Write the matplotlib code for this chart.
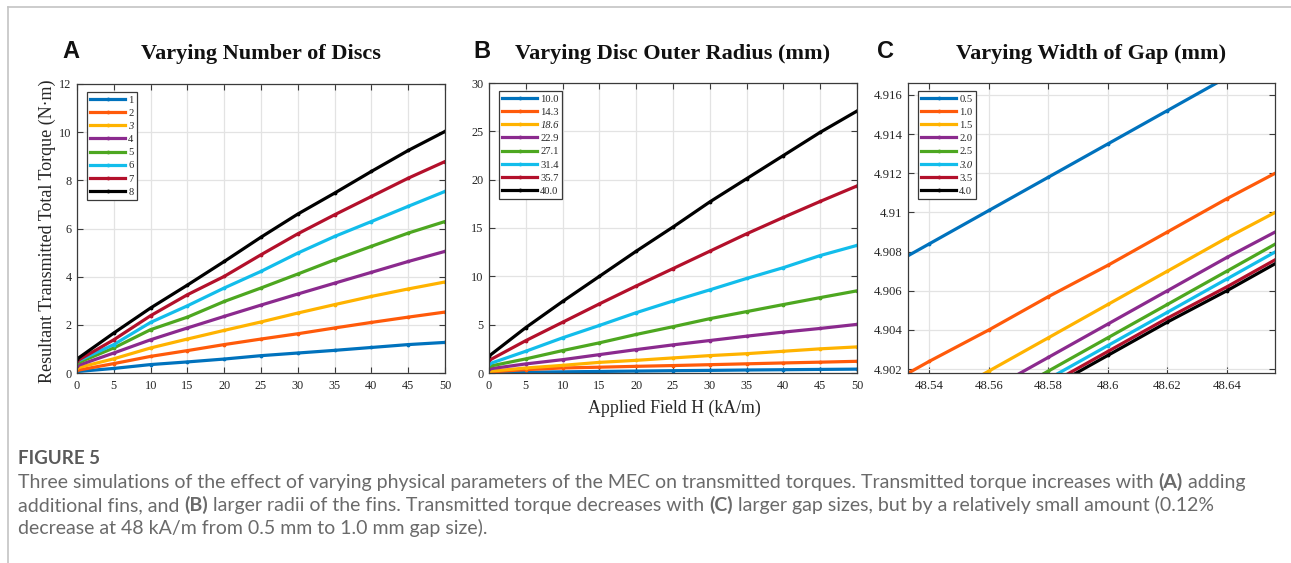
import matplotlib
matplotlib.use('Agg')
import matplotlib.pyplot as plt
from matplotlib.lines import Line2D
from matplotlib.ticker import FuncFormatter

# ---------------- data ----------------
field_H = [0, 5, 10, 15, 20, 25, 30, 35, 40, 45, 50]

series_colors = ['#0072BD', '#FF5A0A', '#FFB300', '#8B2A8E',
                 '#4DA720', '#12BDEB', '#B3102B', '#000000']

# Panel A: number of discs
disc_labels = ['1', '2', '3', '4', '5', '6', '7', '8']
discs_1 = [0.06, 0.19, 0.35, 0.46, 0.58, 0.72, 0.83, 0.94, 1.06, 1.18, 1.27]
discs_2 = [0.11, 0.39, 0.69, 0.93, 1.18, 1.41, 1.63, 1.87, 2.10, 2.32, 2.53]
discs_3 = [0.21, 0.59, 1.04, 1.41, 1.77, 2.12, 2.49, 2.84, 3.18, 3.49, 3.78]
discs_4 = [0.30, 0.83, 1.38, 1.87, 2.35, 2.82, 3.28, 3.73, 4.18, 4.63, 5.05]
discs_5 = [0.41, 1.04, 1.80, 2.32, 2.97, 3.53, 4.11, 4.70, 5.26, 5.81, 6.29]
discs_6 = [0.48, 1.18, 2.10, 2.79, 3.53, 4.22, 4.98, 5.67, 6.29, 6.92, 7.54]
discs_7 = [0.50, 1.38, 2.38, 3.25, 4.01, 4.91, 5.78, 6.57, 7.33, 8.09, 8.78]
discs_8 = [0.58, 1.66, 2.70, 3.65, 4.63, 5.64, 6.60, 7.47, 8.37, 9.24, 10.03]

# Panel B: disc outer radius (mm)
radius_labels = ['10.0', '14.3', '18.6', '22.9', '27.1', '31.4', '35.7', '40.0']
radius_10_0 = [0.03, 0.08, 0.12, 0.16, 0.20, 0.24, 0.27, 0.31, 0.34, 0.37, 0.40]
radius_14_3 = [0.10, 0.35, 0.52, 0.60, 0.69, 0.77, 0.86, 0.95, 1.04, 1.12, 1.21]
radius_18_6 = [0.17, 0.52, 0.79, 1.10, 1.31, 1.56, 1.80, 2.00, 2.25, 2.50, 2.70]
radius_22_9 = [0.42, 0.94, 1.38, 1.90, 2.42, 2.91, 3.36, 3.81, 4.23, 4.61, 5.03]
radius_27_1 = [0.69, 1.46, 2.32, 3.12, 3.99, 4.79, 5.62, 6.35, 7.08, 7.80, 8.50]
radius_31_4 = [0.94, 2.25, 3.64, 4.92, 6.24, 7.45, 8.60, 9.78, 10.90, 12.15, 13.20]
radius_35_7 = [1.30, 3.35, 5.25, 7.15, 9.00, 10.80, 12.60, 14.40, 16.10, 17.75, 19.35]
radius_40_0 = [1.75, 4.70, 7.40, 10.00, 12.60, 15.10, 17.70, 20.10, 22.50, 24.90, 27.10]

# Panel C: width of gap (mm), zoomed view
gap_labels = ['0.5', '1.0', '1.5', '2.0', '2.5', '3.0', '3.5', '4.0']
gap_field = [48.52, 48.54, 48.56, 48.58, 48.60, 48.62, 48.64, 48.66]
gap_0_5 = [4.9067, 4.9084, 4.9101, 4.9118, 4.9135, 4.9152, 4.9169, 4.9186]
gap_1_0 = [4.9007, 4.9024, 4.9040, 4.9057, 4.9073, 4.9090, 4.9107, 4.9123]
gap_1_5 = [4.8985, 4.9002, 4.9019, 4.9036, 4.9053, 4.9070, 4.9087, 4.9103]
gap_2_0 = [4.8975, 4.8992, 4.9009, 4.9026, 4.9043, 4.9060, 4.9077, 4.9093]
gap_2_5 = [4.8968, 4.8985, 4.9002, 4.9019, 4.9036, 4.9053, 4.9070, 4.9087]
gap_3_0 = [4.8964, 4.8981, 4.8998, 4.9015, 4.9032, 4.9049, 4.9066, 4.9083]
gap_3_5 = [4.8963, 4.8979, 4.8996, 4.9012, 4.9029, 4.9046, 4.9062, 4.9079]
gap_4_0 = [4.8961, 4.8977, 4.8994, 4.9010, 4.9027, 4.9044, 4.9060, 4.9077]

titles = ['Varying Number of Discs', 'Varying Disc Outer Radius (mm)',
          'Varying Width of Gap (mm)']
panel_letters = ['A', 'B', 'C']
y_label = 'Resultant Transmitted Total Torque (N\u00b7m)'
x_label = 'Applied Field H (kA/m)'

caption_head = 'FIGURE 5'
caption_lines = [
    [('Three simulations of the effect of varying physical parameters of the MEC on transmitted torques. Transmitted torque increases with ', False),
     ('(A)', True), (' adding', False)],
    [('additional fins, and ', False), ('(B)', True),
     (' larger radii of the fins. Transmitted torque decreases with ', False),
     ('(C)', True), (' larger gap sizes, but by a relatively small amount (0.12%', False)],
    [('decrease at 48 kA/m from 0.5 mm to 1.0 mm gap size).', False)],
]

# ---------------- figure ----------------
W, Hpx = 1291, 563
fig = plt.figure(figsize=(W / 100, Hpx / 100), dpi=100)
SERIF = ['Liberation Serif', 'DejaVu Serif']
AX_COL = '#3a3a3a'


def fx(px):
    return px / W


def fy(py):
    return 1 - py / Hpx


axes_px = [(77, 84, 445, 373), (489, 83, 857, 373), (908, 83, 1275, 373)]
axs = []
for (l, t, r, b) in axes_px:
    ax = fig.add_axes([fx(l), fy(b), (r - l) / W, (b - t) / Hpx])
    axs.append(ax)


def style_axis(ax, size=8.8):
    ax.grid(True, color='#e3e3e3', linewidth=0.9)
    ax.set_axisbelow(True)
    for s in ax.spines.values():
        s.set_color(AX_COL)
        s.set_linewidth(0.9)
    ax.tick_params(direction='in', length=4, width=0.8, colors=AX_COL,
                   labelsize=size, top=True, right=True)
    ax.tick_params(axis='x', pad=5)
    ax.tick_params(axis='y', pad=4)
    for lab in ax.get_xticklabels() + ax.get_yticklabels():
        lab.set_fontfamily(SERIF)
        lab.set_color('#262626')


def add_legend(ax, labels, italic_idx, width_px):
    leg = ax.legend(labels=labels, loc='upper left',
                    bbox_to_anchor=(10 / width_px, 1 - 8 / 290),
                    borderaxespad=0, prop={'family': SERIF, 'size': 7.6},
                    handlelength=3.3, handletextpad=0.3, labelspacing=0.36,
                    borderpad=0.3, fancybox=False, framealpha=1,
                    edgecolor=AX_COL, numpoints=1)
    leg.get_frame().set_linewidth(0.9)
    leg.get_texts()[italic_idx].set_style('italic')
    for t in leg.get_texts():
        t.set_color('#262626')
    return leg


LW = 2.3
MS = 3.5

# Panel A
axA = axs[0]
for ys, c in zip([discs_1, discs_2, discs_3, discs_4, discs_5, discs_6, discs_7, discs_8],
                 series_colors):
    axA.plot(field_H, ys, color=c, lw=LW, marker='.', ms=MS)
axA.set_xlim(0, 50)
axA.set_ylim(0, 12)
axA.set_xticks(range(0, 51, 5))
axA.set_yticks(range(0, 13, 2))
style_axis(axA)
add_legend(axA, disc_labels, 2, 368)

# Panel B
axB = axs[1]
for ys, c in zip([radius_10_0, radius_14_3, radius_18_6, radius_22_9, radius_27_1,
                  radius_31_4, radius_35_7, radius_40_0], series_colors):
    axB.plot(field_H, ys, color=c, lw=LW, marker='.', ms=MS)
axB.set_xlim(0, 50)
axB.set_ylim(0, 30)
axB.set_xticks(range(0, 51, 5))
axB.set_yticks(range(0, 31, 5))
style_axis(axB)
add_legend(axB, radius_labels, 2, 368)

# Panel C
axC = axs[2]
for ys, c in zip([gap_0_5, gap_1_0, gap_1_5, gap_2_0, gap_2_5, gap_3_0, gap_3_5, gap_4_0],
                 series_colors):
    axC.plot(gap_field, ys, color=c, lw=LW, marker='.', ms=MS)
axC.set_xlim(48.5328, 48.6562)
axC.set_ylim(4.9018, 4.91661)
axC.set_xticks([48.54, 48.56, 48.58, 48.60, 48.62, 48.64])
axC.set_yticks([4.902, 4.904, 4.906, 4.908, 4.910, 4.912, 4.914, 4.916])
axC.xaxis.set_major_formatter(FuncFormatter(lambda v, p: '%g' % round(v, 4)))
axC.yaxis.set_major_formatter(FuncFormatter(lambda v, p: '%g' % round(v, 4)))
style_axis(axC, 9.2)
add_legend(axC, gap_labels, 5, 367)

# titles and panel letters
for ax, (l, t, r, b), title, letter, lx in zip(axs, axes_px, titles, panel_letters,
                                               [62, 473, 877]):
    fig.text(fx((l + r) / 2), fy(54), title, ha='center', va='center',
             fontsize=16, fontweight='bold', family=SERIF, color='#111111')
    fig.text(fx(lx), fy(52), letter, ha='left', va='center', fontsize=17,
             fontweight='bold', family=['Liberation Sans', 'DejaVu Sans'], color='#111111')

fig.text(fx(47), fy(231), y_label, rotation=90, ha='center', va='center',
         fontsize=13, family=SERIF, color='#262626')
fig.text(fx(674), fy(408), x_label, ha='center', va='center',
         fontsize=12.8, family=SERIF, color='#262626')

# page frame
fig.add_artist(Line2D([fx(8), 1], [fy(7), fy(7)], color='#c4c4c4', lw=1.2))
fig.add_artist(Line2D([fx(8), fx(8)], [fy(7), 0], color='#c4c4c4', lw=1.2))

# caption
CAP_FONT = ['Lato', 'DejaVu Sans']
CAP_SIZE = 14.0
fig.text(fx(18), fy(464), caption_head, ha='left', va='baseline', fontsize=13.5,
         family=CAP_FONT, color='#5a5a5a', fontweight='bold')

fig.canvas.draw()
renderer = fig.canvas.get_renderer()
for i, pieces in enumerate(caption_lines):
    x = fx(18)
    base_y = fy(488 + 23 * i)
    for txt, bold in pieces:
        t = fig.text(x, base_y, txt, ha='left', va='baseline', fontsize=CAP_SIZE,
                     family=CAP_FONT, color='#6a6a6a',
                     fontweight='bold' if bold else 'normal')
        bb = t.get_window_extent(renderer)
        x = bb.x1 / W

fig.savefig('out.png', dpi=100)
